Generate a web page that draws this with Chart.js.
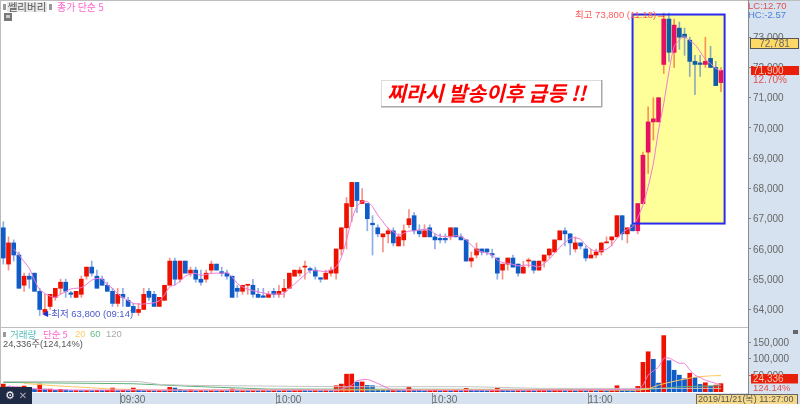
<!DOCTYPE html>
<html>
<head>
<meta charset="utf-8">
<style>
html, body { margin: 0; padding: 0; background: #fff; }
canvas { display: block; }
</style>
<script src="https://cdn.jsdelivr.net/npm/chart.js@4/dist/chart.umd.js"></script>
</head>
<body>
<canvas id="grafica" width="800" height="404"></canvas>
<script>
const opens = [66700,65500,66200,65800,64800,65100,65200,64600,63900,64100,64400,64700,64900,64550,64400,64500,65100,65400,65100,65000,
  64800,64600,64200,64500,64300,64100,63900,64000,64600,64500,64100,64300,64800,65600,65000,65600,65200,65300,65000,65000,
  65300,65500,65250,65200,65100,64700,64600,64800,64800,64500,64450,64400,64600,64500,64600,64700,65100,65200,65400,65350,
  65300,65050,65000,65200,65200,66000,66700,67400,68200,67500,67500,66850,66700,66400,66500,66600,66100,66300,66800,67100,
  66600,66400,66700,66400,66350,66350,66400,66700,66400,66300,65600,65800,66000,66000,65850,65700,65300,65500,65700,65500,
  65200,65600,65600,65300,65600,65800,65900,66300,66600,66500,66000,66200,66000,65700,65800,65900,66200,66300,66400,67100,
  66500,66800,66600,67500,69200,70200,70200,72100,73600,72500,73300,73100,72900,72200,72150,72100,72300,72000,71500];
const highs = [66900,66400,66300,65900,65200,65200,65200,64700,64500,64500,64700,65000,65000,64600,64600,65100,65400,65600,65300,65100,
  64900,64700,64700,64700,64400,64200,64200,64700,64700,64600,64400,64800,65700,65700,65600,65600,65400,65400,65300,65300,
  65600,65500,65400,65300,65100,64800,64800,64800,65000,64700,64700,64600,64700,64800,65000,65200,65300,65400,65600,65400,
  65400,65050,65300,65400,66000,66700,67700,68200,68200,68000,67500,67100,66800,66500,66700,66700,66500,66800,67300,67200,
  66800,66800,66800,66500,66500,66500,66700,66700,66500,66300,65900,66200,66000,66000,66000,65700,65500,65700,65800,65500,
  65600,65700,65600,65600,65800,66000,66300,66600,66700,66500,66400,66200,66100,66000,66000,66200,66400,66400,67100,67100,
  66700,66800,67500,69200,70700,71000,71000,73800,73800,73600,73500,73300,73000,72400,72400,73000,72700,72200,72000];
const lows = [65500,65300,65600,64700,64600,64700,64600,63800,63800,64000,64300,64500,64400,64400,64400,64400,65000,65100,64700,64800,
  64600,64100,64100,64100,64100,63900,63800,64000,64300,64100,64100,64300,64800,64800,64900,65200,65100,64900,64800,64900,
  65200,65300,65100,65000,64400,64400,64500,64500,64400,64400,64400,64400,64400,64400,64400,64700,65100,65100,65000,65200,
  65000,64900,65000,65100,65000,65800,66000,66900,67200,67500,66600,65800,66400,65900,66200,66100,66100,66100,66700,66500,
  66400,66400,66400,66000,66200,66200,66300,66400,66300,65600,65400,65700,65800,65800,65700,65000,65000,65300,65400,65100,
  65200,65400,65200,65300,65400,65700,65900,66300,66100,65800,65900,66000,65600,65700,65700,65800,66200,66100,66400,66300,
  66200,66600,66500,67500,68500,69600,70200,71800,72200,72000,72600,72400,71700,71100,71700,72000,72000,71400,71200];
const closes = [65700,66200,65800,64700,65100,65000,64600,64000,64000,64500,64700,64900,64600,64500,64600,65000,65400,65200,64700,64800,
  64600,64200,64500,64400,64100,63900,64000,64500,64400,64100,64400,64800,65600,65000,65600,65200,65300,65000,64900,65200,
  65500,65300,65200,65100,64400,64600,64800,64800,64500,64400,64400,64500,64500,64600,64700,65200,65300,65300,65400,65300,
  65100,65000,65200,65300,66000,66700,67500,68200,67600,67600,67000,66800,66500,66500,66600,66200,66400,66600,67000,66600,
  66500,66600,66400,66300,66300,66300,66700,66400,66300,65600,65700,66000,65900,65900,65800,65200,65500,65700,65400,65200,
  65400,65600,65300,65600,65800,66000,66300,66600,66500,66200,66200,66100,65700,65800,65900,66200,66200,66400,67100,66500,
  66700,66600,67500,69100,70200,70300,71000,73600,72500,73400,73000,73000,72200,72100,72100,72200,72000,71400,71900];
const ma5 = [null,null,66000,65800,65580,65360,64970,64660,64530,64440,64400,64500,64590,64680,64700,64720,64830,64970,65020,65000,
  64810,64700,64510,64400,64290,64200,64180,64180,64200,64220,64290,64480,64750,64810,64940,65100,65170,65190,65130,65160,
  65190,65200,65200,65210,65080,64860,64750,64670,64620,64580,64550,64510,64510,64510,64520,64700,64840,65000,65140,65280,
  65280,65270,65250,65300,65410,65720,66300,66960,67400,67560,67560,67400,67120,66900,66680,66570,66460,66520,66590,66600,
  66630,66650,66630,66500,66430,66410,66410,66440,66410,66300,66130,65970,65910,65860,65800,65635,65550,65530,65490,65440,
  65460,65470,65440,65410,65520,65660,65860,66050,66210,66350,66370,66320,66130,65990,65930,65940,65990,66130,66350,66520,
  66650,66740,67040,67450,68060,68830,69930,70810,71860,72690,72900,73020,72880,72760,72520,72270,72130,71970,71890];
const volumes = [23000,15000,12000,14000,17000,9000,8000,23000,8000,8000,4000,7000,5000,3000,3500,3000,3500,3000,4000,3500,
  4000,11000,3000,4000,3000,11000,4000,3000,3500,3000,3500,3000,13000,11000,7000,5000,6000,3000,4000,3000,
  3500,3000,3500,3000,8000,3000,3500,3000,3500,3000,4000,3000,3500,3000,4000,3500,5000,5000,4000,3000,
  3500,3000,3500,3000,18000,23000,53000,53500,29000,29500,19000,18000,7000,6500,5000,7000,6000,4000,13000,5000,
  4500,3000,3500,6000,3000,3500,3000,4000,3000,10000,5000,4500,4000,3000,3500,11000,4000,3500,3000,3500,
  3000,3500,3000,4000,4500,4000,5000,5500,3000,3500,3000,3500,3000,3500,3000,3500,3000,3500,18000,4000,
  3500,3000,16000,89000,121000,98000,26000,170000,94000,65000,50000,39000,56000,43000,22000,27000,17000,20000,24336];

const volMa5 = [[1,17000],[7,7000],[15,5000],[63,5000],[64,3000],[67,20000],[68,33000],[70,37000],[72,25000],[74,10000],[75,5000],[122,7000],[123,20000],[124,50000],[125,63000],[126,75000],[127,101000],[128,102000],[129,94000],[130,86000],[131,86000],[132,66000],[133,50000],[134,43000],[135,35000],[136,30000],[137,25000],[138,20000]];
const volMa20 = [[4,25000],[10,18000],[21,8000],[30,5000],[60,5000],[90,6000],[122,5000],[124,8000],[126,20000],[128,28000],[130,35000],[133,44000],[136,48000],[138,49000]];
const volMa60 = [[0,28000],[25,24000],[38,15000],[51,8000],[100,7000],[110,7000],[120,4000],[125,8000],[130,15000],[138,18000]];
const volMa120 = [[0,31000],[26,31000],[30,22000],[36,19000],[51,17000],[65,15000],[90,15000],[103,10000],[138,10000]];

const priceTicks = [64000,65000,66000,67000,68000,69000,70000,71000,72000,73000];
const volTicks = [50000,100000,150000];
const timeTicks = [22.5,52.5,82.5,112.5];
const timeLabels = ["09:30","10:00","10:30","11:00"];

const highlightFrom = 121;
const highlightTo = 138.7;
const highlightTop = 73750;
const highlightBottom = 66840;

const RED = "#ee1100";
const BLUE = "#0f5cc8";
const PANEL = "#d6e2ef";
const FONT = '"Liberation Sans","Noto Sans CJK KR",sans-serif';
const KR = '"Noto Sans CJK KR",sans-serif';

const fmt = (n) => n.toLocaleString("en-US");
const points = (list) => list.map((p) => ({ x: p[0], y: p[1] }));

function candleColor(i) {
    if (closes[i] >= opens[i]) return i >= 122 ? "#e60f60" : RED;
    return i >= 122 ? "#0f5ca8" : BLUE;
}

function text(ctx, s, x, y, color, font, align) {
    ctx.fillStyle = color;
    ctx.font = font;
    ctx.textAlign = align || "left";
    ctx.textBaseline = "middle";
    ctx.fillText(s, x, y);
}

const chrome = {
    id: "chrome",
    beforeDraw(chart) {
        const ctx = chart.ctx;
        const { x, y } = chart.scales;
        ctx.save();
        ctx.fillStyle = "#fff";
        ctx.fillRect(0, 0, 800, 404);
        ctx.fillStyle = PANEL;
        ctx.fillRect(748, 0, 52, 404);
        ctx.fillRect(0, 393, 748, 11);
        ctx.fillStyle = "#bdbdbd";
        ctx.fillRect(0, 0, 800, 1);
        ctx.fillRect(0, 0, 1, 404);
        ctx.fillRect(0, 327, 748, 1);
        ctx.fillStyle = "#ffff99";
        ctx.fillRect(
            x.getPixelForValue(highlightFrom),
            y.getPixelForValue(highlightTop),
            x.getPixelForValue(highlightTo) - x.getPixelForValue(highlightFrom),
            y.getPixelForValue(highlightBottom) - y.getPixelForValue(highlightTop)
        );
        ctx.restore();
    },
    afterDraw(chart) {
        const ctx = chart.ctx;
        const { x, y } = chart.scales;
        ctx.save();

        // recuadro amarillo
        ctx.strokeStyle = "#2a2af0";
        ctx.lineWidth = 2;
        ctx.strokeRect(
            x.getPixelForValue(highlightFrom),
            y.getPixelForValue(highlightTop),
            x.getPixelForValue(highlightTo) - x.getPixelForValue(highlightFrom),
            y.getPixelForValue(highlightBottom) - y.getPixelForValue(highlightTop)
        );

        // cabecera
        ctx.fillStyle = "#999";
        ctx.fillRect(3, 4, 3, 6);
        ctx.fillRect(49, 4, 3, 6);
        ctx.fillStyle = "#e8e8e8";
        ctx.fillRect(7, 2, 40, 10);
        text(ctx, "쎌리버리", 27, 7.5, "#555", "10.5px " + KR, "center");
        text(ctx, "종가 단순 5", 57, 7.5, "#ff66d0", "10px " + KR);
        ctx.fillStyle = "#777";
        ctx.fillRect(4, 13, 8, 8);
        ctx.fillStyle = "#ccc";
        ctx.fillRect(6, 15, 4, 3);

        // comentario
        ctx.fillStyle = "#fff";
        ctx.fillRect(381, 80, 221, 27);
        ctx.strokeStyle = "#dcdcdc";
        ctx.lineWidth = 1;
        ctx.strokeRect(381.5, 80.5, 220, 26);
        ctx.fillStyle = "#a8a8a8";
        ctx.fillRect(381, 106, 221, 1.5);
        ctx.fillRect(601, 80, 1.5, 27);
        text(ctx, "찌라시 발송이후 급등 !!", 387, 93, "#ff0000", "italic bold 20.5px " + KR);

        // maximo y minimo
        text(ctx, "최고 73,800 (11:18)", 575, 15, "#ff5a5a", "9.5px " + FONT);
        text(ctx, "→", 656, 15, "#ff3030", "11px " + FONT);
        text(ctx, "◀", 42, 314, "#2233cc", "8px DejaVu Sans");
        text(ctx, "-최저 63,800 (09:14)", 48, 314, "#4a58cc", "9.5px " + FONT);

        // leyenda del volumen
        ctx.fillStyle = "#999";
        ctx.fillRect(3, 332, 3, 5);
        text(ctx, "거래량", 10, 334.5, "#55bbbb", "9.5px " + KR);
        text(ctx, "단순 5", 43, 334.5, "#ff66d0", "9.5px " + KR);
        text(ctx, "20", 75, 334.5, "#ffcc66", "9.5px " + FONT);
        text(ctx, "60", 90, 334.5, "#66bb88", "9.5px " + FONT);
        text(ctx, "120", 106, 334.5, "#aaaaaa", "9.5px " + FONT);
        text(ctx, "24,336주(124,14%)", 3, 344, "#555", "9.3px " + FONT);

        // etiquetas del panel derecho
        text(ctx, "LC:12.70", 748, 6.5, "#e05050", "9.5px " + FONT);
        text(ctx, "HC:-2.57", 748, 15.5, "#4a80d8", "9.5px " + FONT);
        ctx.fillStyle = "#ffd966";
        ctx.fillRect(750, 38, 49, 11);
        ctx.strokeStyle = "#555";
        ctx.strokeRect(750.5, 38.5, 48, 10);
        text(ctx, "72,781", 774.5, 44, "#666", "10px " + FONT, "center");
        ctx.fillStyle = "#e8200a";
        ctx.fillRect(751, 66, 48, 9);
        text(ctx, "71,900", 753, 71, "#f4c4b4", "10px " + FONT);
        text(ctx, "12.70%", 753, 80, "#e05050", "10px " + FONT);
        ctx.fillStyle = "#e8200a";
        ctx.fillRect(751, 374, 47, 9.5);
        text(ctx, "24,336", 753, 379, "#f4c4b4", "10px " + FONT);
        text(ctx, "124.14%", 753, 388, "#e05050", "9.5px " + FONT);
        ctx.fillStyle = "#666";
        ctx.fillRect(793, 330, 5, 4);

        // fecha y botones
        ctx.fillStyle = "#f5d98b";
        ctx.fillRect(696, 394, 102, 10);
        ctx.strokeStyle = "#666";
        ctx.strokeRect(696.5, 394.5, 101, 10);
        text(ctx, "2019/11/21(목) 11:27:00", 698, 400, "#555", "9px " + FONT);
        ctx.fillStyle = "#1f2a44";
        ctx.fillRect(0, 387, 32, 17);
        text(ctx, "⚙", 10, 396, "#fff", "11px DejaVu Sans", "center");
        text(ctx, "✕", 23, 396, "#aab", "10px DejaVu Sans", "center");
        ctx.restore();
    },
};

const index = closes.map((_, i) => i);

new Chart(document.getElementById("grafica").getContext("2d"), {
    type: "bar",
    plugins: [chrome],
    data: {
        datasets: [
            {
                label: "mechas",
                yAxisID: "y",
                order: 5,
                grouped: false,
                barThickness: 1,
                data: index.map((i) => ({ x: i, y: [lows[i], highs[i]] })),
                backgroundColor: index.map((i) =>
                    closes[i] >= opens[i] ? "rgba(238,40,20,0.5)" : "rgba(30,90,210,0.5)"
                ),
            },
            {
                label: "velas",
                yAxisID: "y",
                order: 4,
                grouped: false,
                barThickness: 4,
                minBarLength: 1,
                data: index.map((i) => ({ x: i, y: [opens[i], closes[i]] })),
                backgroundColor: index.map(candleColor),
            },
            {
                label: "volumen",
                yAxisID: "yVol",
                order: 4,
                grouped: false,
                barThickness: 4,
                data: index.map((i) => ({ x: i, y: volumes[i] })),
                backgroundColor: index.map((i) =>
                    i === 0 || volumes[i] >= volumes[i - 1] ? RED : BLUE
                ),
            },
            {
                type: "line",
                label: "종가 단순 5",
                yAxisID: "y",
                order: 1,
                data: index.filter((i) => ma5[i] !== null).map((i) => ({ x: i, y: ma5[i] })),
                borderColor: "#f07ad8",
                borderWidth: 1,
                pointRadius: 0,
                tension: 0.3,
            },
            {
                type: "line",
                label: "120",
                yAxisID: "yVol",
                order: 3,
                data: points(volMa120),
                borderColor: "#c4c4c4",
                borderWidth: 1,
                pointRadius: 0,
            },
            {
                type: "line",
                label: "60",
                yAxisID: "yVol",
                order: 3,
                data: points(volMa60),
                borderColor: "#5fb07a",
                borderWidth: 1,
                pointRadius: 0,
            },
            {
                type: "line",
                label: "20",
                yAxisID: "yVol",
                order: 2,
                data: points(volMa20),
                borderColor: "#ffc860",
                borderWidth: 1,
                pointRadius: 0,
            },
            {
                type: "line",
                label: "단순 5",
                yAxisID: "yVol",
                order: 1,
                data: points(volMa5),
                borderColor: "#f07ad8",
                borderWidth: 1,
                pointRadius: 0,
                tension: 0.2,
            },
        ],
    },
    options: {
        responsive: false,
        animation: false,
        devicePixelRatio: 1,
        layout: { padding: 0 },
        plugins: { legend: { display: false }, tooltip: { enabled: false } },
        scales: {
            x: {
                type: "linear",
                offset: false,
                min: -0.635,
                max: 143.2,
                afterBuildTicks: (s) => { s.ticks = timeTicks.map((v) => ({ value: v })); },
                afterFit: (s) => { s.height = 11; s.paddingLeft = 0; s.paddingRight = 0; },
                border: { display: false },
                grid: { offset: false, drawOnChartArea: false, tickLength: 11, color: "#8a8a8a" },
                ticks: {
                    autoSkip: false,
                    maxRotation: 0,
                    align: "start",
                    padding: -10,
                    color: "#666",
                    font: { family: FONT, size: 10 },
                    callback: (v, i) => timeLabels[i],
                },
            },
            y: {
                position: "right",
                stack: "derecha",
                stackWeight: 327,
                weight: 0,
                min: 63420,
                max: 74230,
                afterBuildTicks: (s) => { s.ticks = priceTicks.map((v) => ({ value: v })); },
                afterFit: (s) => { s.width = 52; s.paddingTop = 0; s.paddingBottom = 0; },
                border: { color: "#8a8a8a", dash: [1, 2] },
                grid: { drawOnChartArea: false, tickLength: 3, color: "#8a8a8a" },
                ticks: {
                    autoSkip: false,
                    padding: 2,
                    labelOffset: 1,
                    color: "#666",
                    font: { family: FONT, size: 10 },
                    callback: (v) => fmt(v),
                },
            },
            yVol: {
                position: "right",
                stack: "derecha",
                stackWeight: 66,
                weight: 1,
                min: -4000,
                max: 196000,
                afterBuildTicks: (s) => { s.ticks = volTicks.map((v) => ({ value: v })); },
                afterFit: (s) => { s.width = 52; s.paddingTop = 0; s.paddingBottom = 0; },
                border: { color: "#8a8a8a", dash: [1, 2] },
                grid: { drawOnChartArea: false, tickLength: 3, color: "#8a8a8a" },
                ticks: {
                    autoSkip: false,
                    padding: 2,
                    labelOffset: 1,
                    color: "#666",
                    font: { family: FONT, size: 10 },
                    callback: (v) => fmt(v),
                },
            },
        },
    },
});
</script>
</body>
</html>
